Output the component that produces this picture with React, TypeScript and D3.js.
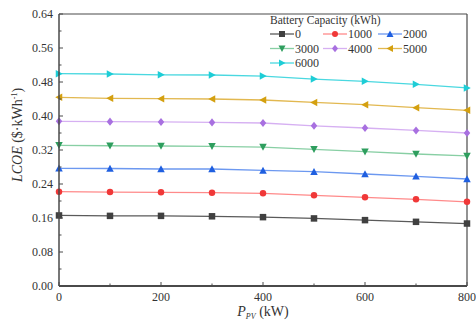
import React from "react";
import * as d3 from "d3";

// PV power (kW)
const pvPower = [0, 100, 200, 300, 400, 500, 600, 700, 800];

// LCOE ($/kWh) per battery capacity
const cap0 = [0.166, 0.165, 0.165, 0.164, 0.162, 0.159, 0.155, 0.151, 0.147];
const cap1000 = [0.222, 0.221, 0.2205, 0.2196, 0.218, 0.2133, 0.2086, 0.204, 0.198];
const cap2000 = [0.277, 0.2765, 0.2753, 0.2753, 0.272, 0.269, 0.2635, 0.258, 0.2518];
const cap3000 = [0.331, 0.33, 0.3294, 0.3286, 0.327, 0.3216, 0.316, 0.3106, 0.306];
const cap4000 = [0.3875, 0.3867, 0.386, 0.385, 0.3835, 0.377, 0.3718, 0.366, 0.36];
const cap5000 = [0.444, 0.4416, 0.4407, 0.44, 0.4376, 0.432, 0.4266, 0.4196, 0.4133];
const cap6000 = [0.4996, 0.4988, 0.497, 0.4965, 0.494, 0.487, 0.4816, 0.4745, 0.466];

const seriesNames = ["0", "1000", "2000", "3000", "4000", "5000", "6000"];
const seriesValues = [cap0, cap1000, cap2000, cap3000, cap4000, cap5000, cap6000];

const markerColors = ["#404040", "#f03838", "#1f5fe0", "#2e9e5e", "#a870e0", "#d4a010", "#1ecdd6"];
const lineColors = ["#5a5a5a", "#ff8a8a", "#6c98f0", "#88cfa4", "#d6b0f2", "#e2b850", "#4ad8e0"];
const markerShapes = ["square", "circle", "triangleUp", "triangleDown", "diamond", "triangleLeft", "triangleRight"];

const yTicks = [0, 0.08, 0.16, 0.24, 0.32, 0.4, 0.48, 0.56, 0.64];
const xTicks = [0, 200, 400, 600, 800];

const W = 476;
const H = 322;
const margin = { top: 14, right: 9, bottom: 36, left: 59 };
const serif = { fontFamily: "'Liberation Serif', 'Times New Roman', serif" };

const markerPath = (shape: string, s: number) => {
  const h = s / 2;
  switch (shape) {
    case "square":
      return `M${-h},${-h}H${h}V${h}H${-h}Z`;
    case "circle":
      return `M${h},0A${h},${h} 0 1,1 ${-h},0A${h},${h} 0 1,1 ${h},0Z`;
    case "triangleUp":
      return `M0,${-h - 0.5}L${h + 0.5},${h}L${-h - 0.5},${h}Z`;
    case "triangleDown":
      return `M0,${h + 0.5}L${h + 0.5},${-h}L${-h - 0.5},${-h}Z`;
    case "diamond":
      return `M0,${-h - 0.8}L${h},0L0,${h + 0.8}L${-h},0Z`;
    case "triangleLeft":
      return `M${-h - 0.5},0L${h},${-h - 0.5}L${h},${h + 0.5}Z`;
    default:
      return `M${h + 0.5},0L${-h},${-h - 0.5}L${-h},${h + 0.5}Z`;
  }
};

const App = () => {
  const x = d3.scaleLinear().domain([0, 800]).range([margin.left, W - margin.right]);
  const y = d3.scaleLinear().domain([0, 0.64]).range([H - margin.bottom, margin.top]);

  const line = d3
    .line<number>()
    .x((_, i) => x(pvPower[i]))
    .y((d) => y(d));

  const x0 = x(0);
  const x1 = x(800);
  const y0 = y(0);
  const y1 = y(0.64);
  const axisColor = "#4a4a4a";

  const yMinor = d3.range(0.04, 0.64, 0.08);
  const xMinor = d3.range(100, 800, 200);

  const legendX = [270, 323, 378];
  const legendY = [34, 48.5, 63];

  return (
    <svg width={W} height={H} style={{ position: "absolute", left: 0, top: 0, background: "#fff" }}>
      {/* frame */}
      <line x1={x0} x2={x1} y1={y1} y2={y1} stroke={axisColor} strokeWidth={1.2} />
      <line x1={x1} x2={x1} y1={y1} y2={y0} stroke={axisColor} strokeWidth={1.2} />

      {/* series */}
      {seriesValues.map((vals, si) => (
        <g key={seriesNames[si]}>
          <path d={line(vals) || ""} fill="none" stroke={lineColors[si]} strokeWidth={1.3} />
          {vals.map((v, i) => (
            <path
              key={i}
              d={markerPath(markerShapes[si], 6.5)}
              transform={`translate(${x(pvPower[i])},${y(v)})`}
              fill={markerColors[si]}
            />
          ))}
        </g>
      ))}

      {/* y axis */}
      <line x1={x0} x2={x0} y1={y1} y2={y0} stroke={axisColor} strokeWidth={1.5} />
      {yTicks.map((t) => (
        <g key={t}>
          <line x1={x0} x2={x0 + 4} y1={y(t)} y2={y(t)} stroke={axisColor} strokeWidth={1} />
          <text x={x0 - 6} y={y(t)} dy="0.35em" textAnchor="end" fontSize={12} fill="#333" style={serif}>
            {d3.format(".2f")(t)}
          </text>
        </g>
      ))}
      {yMinor.map((t) => (
        <line key={t} x1={x0} x2={x0 + 2.5} y1={y(t)} y2={y(t)} stroke={axisColor} strokeWidth={1} />
      ))}

      {/* x axis */}
      <line x1={x0} x2={x1} y1={y0} y2={y0} stroke={axisColor} strokeWidth={2} />
      {xTicks.map((t) => (
        <g key={t}>
          <line x1={x(t)} x2={x(t)} y1={y0} y2={y0 - 4} stroke={axisColor} strokeWidth={1} />
          <text x={x(t)} y={y0 + 15} textAnchor="middle" fontSize={12} fill="#333" style={serif}>
            {t}
          </text>
        </g>
      ))}
      {xMinor.map((t) => (
        <line key={t} x1={x(t)} x2={x(t)} y1={y0} y2={y0 - 2.5} stroke={axisColor} strokeWidth={1} />
      ))}

      {/* axis titles */}
      <text x={(x0 + x1) / 2} y={316} textAnchor="middle" fontSize={14} fill="#333" style={serif}>
        <tspan fontStyle="italic">P</tspan>
        <tspan fontStyle="italic" fontSize={8} dy={3}>PV</tspan>
        <tspan dy={-3}> (kW)</tspan>
      </text>
      <text transform={`translate(22,135) rotate(-90)`} textAnchor="middle" fontSize={14} fill="#333" style={serif}>
        <tspan fontStyle="italic">LCOE</tspan>
        <tspan> ($·kWh</tspan>
        <tspan fontSize={8} dy={-5}>-1</tspan>
        <tspan dy={5}>)</tspan>
      </text>

      {/* legend */}
      <text x={270} y={24} fontSize={11.5} fill="#333" style={serif}>Battery Capacity (kWh)</text>
      {seriesNames.map((name, si) => {
        const col = si % 3;
        const row = Math.floor(si / 3);
        const lx = legendX[col];
        const ly = legendY[row];
        return (
          <g key={name}>
            <line x1={lx} x2={lx + 24} y1={ly} y2={ly} stroke={lineColors[si]} strokeWidth={1.3} />
            <path d={markerPath(markerShapes[si], 6)} transform={`translate(${lx + 12},${ly})`} fill={markerColors[si]} />
            <text x={lx + 25} y={ly} dy="0.35em" fontSize={12} fill="#333" style={serif}>
              {name}
            </text>
          </g>
        );
      })}
    </svg>
  );
};

export default App;
